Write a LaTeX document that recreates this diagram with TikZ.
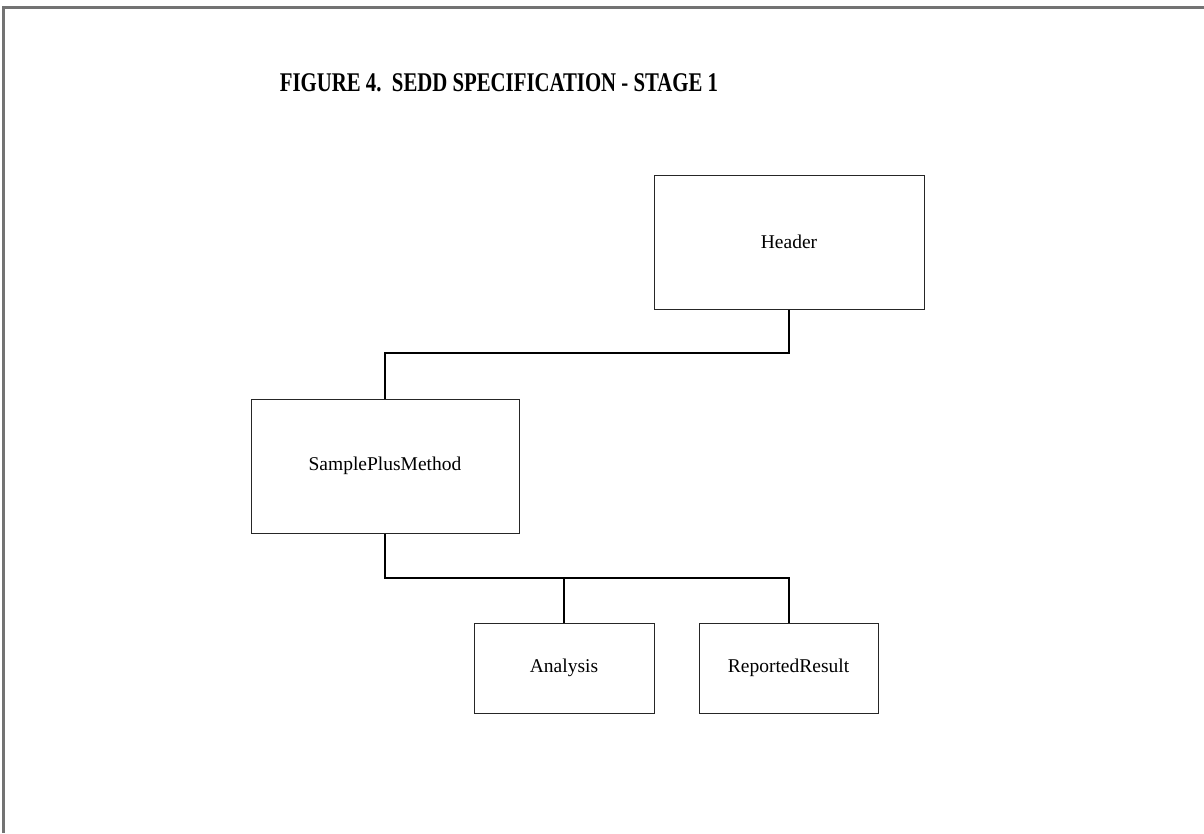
\documentclass[tikz,border=0pt]{standalone}
\usepackage{fontspec}
\setmainfont{Liberation Serif}
\usepackage{graphicx}
\begin{document}
\begin{tikzpicture}[x=1pt,y=-1pt,
  entity/.style={draw=black!85, line width=1pt, fill=white, inner sep=0pt,
    font=\fontsize{19.5}{22}\selectfont},
  link/.style={draw=black, line width=2pt},
  frameline/.style={draw=black!55, line width=2.2pt}]
\useasboundingbox (0,0) rectangle (1204,833);
% page frame, top and left edges
\draw[frameline] (3.5,833) -- (3.5,7.5) -- (1204,7.5);
% title
\node[anchor=base, inner sep=0pt] (title) at (499,91)
  {\scalebox{0.77}[1]{\fontsize{27}{30}\selectfont\bfseries FIGURE 4.\ \ SEDD SPECIFICATION - STAGE 1}};
% entities
\node[entity, minimum width=270pt, minimum height=134pt] (hdr) at (789,242) {Header};
\node[entity, minimum width=268pt, minimum height=134pt] (spm) at (385,466) {SamplePlusMethod};
\node[entity, minimum width=180pt, minimum height=90pt] (ana) at (564,668) {Analysis};
\node[entity, minimum width=179pt, minimum height=90pt] (rep) at (788.5,668) {ReportedResult};
% connectors
\coordinate (bus1) at (385,353);
\coordinate (bus2) at (385,578);
\draw[link] (hdr.south) |- (bus1) -- (spm.north);
\draw[link] (spm.south) -- (bus2) -| (rep.north);
\draw[link] (bus2) -| (ana.north);
\end{tikzpicture}
\end{document}
